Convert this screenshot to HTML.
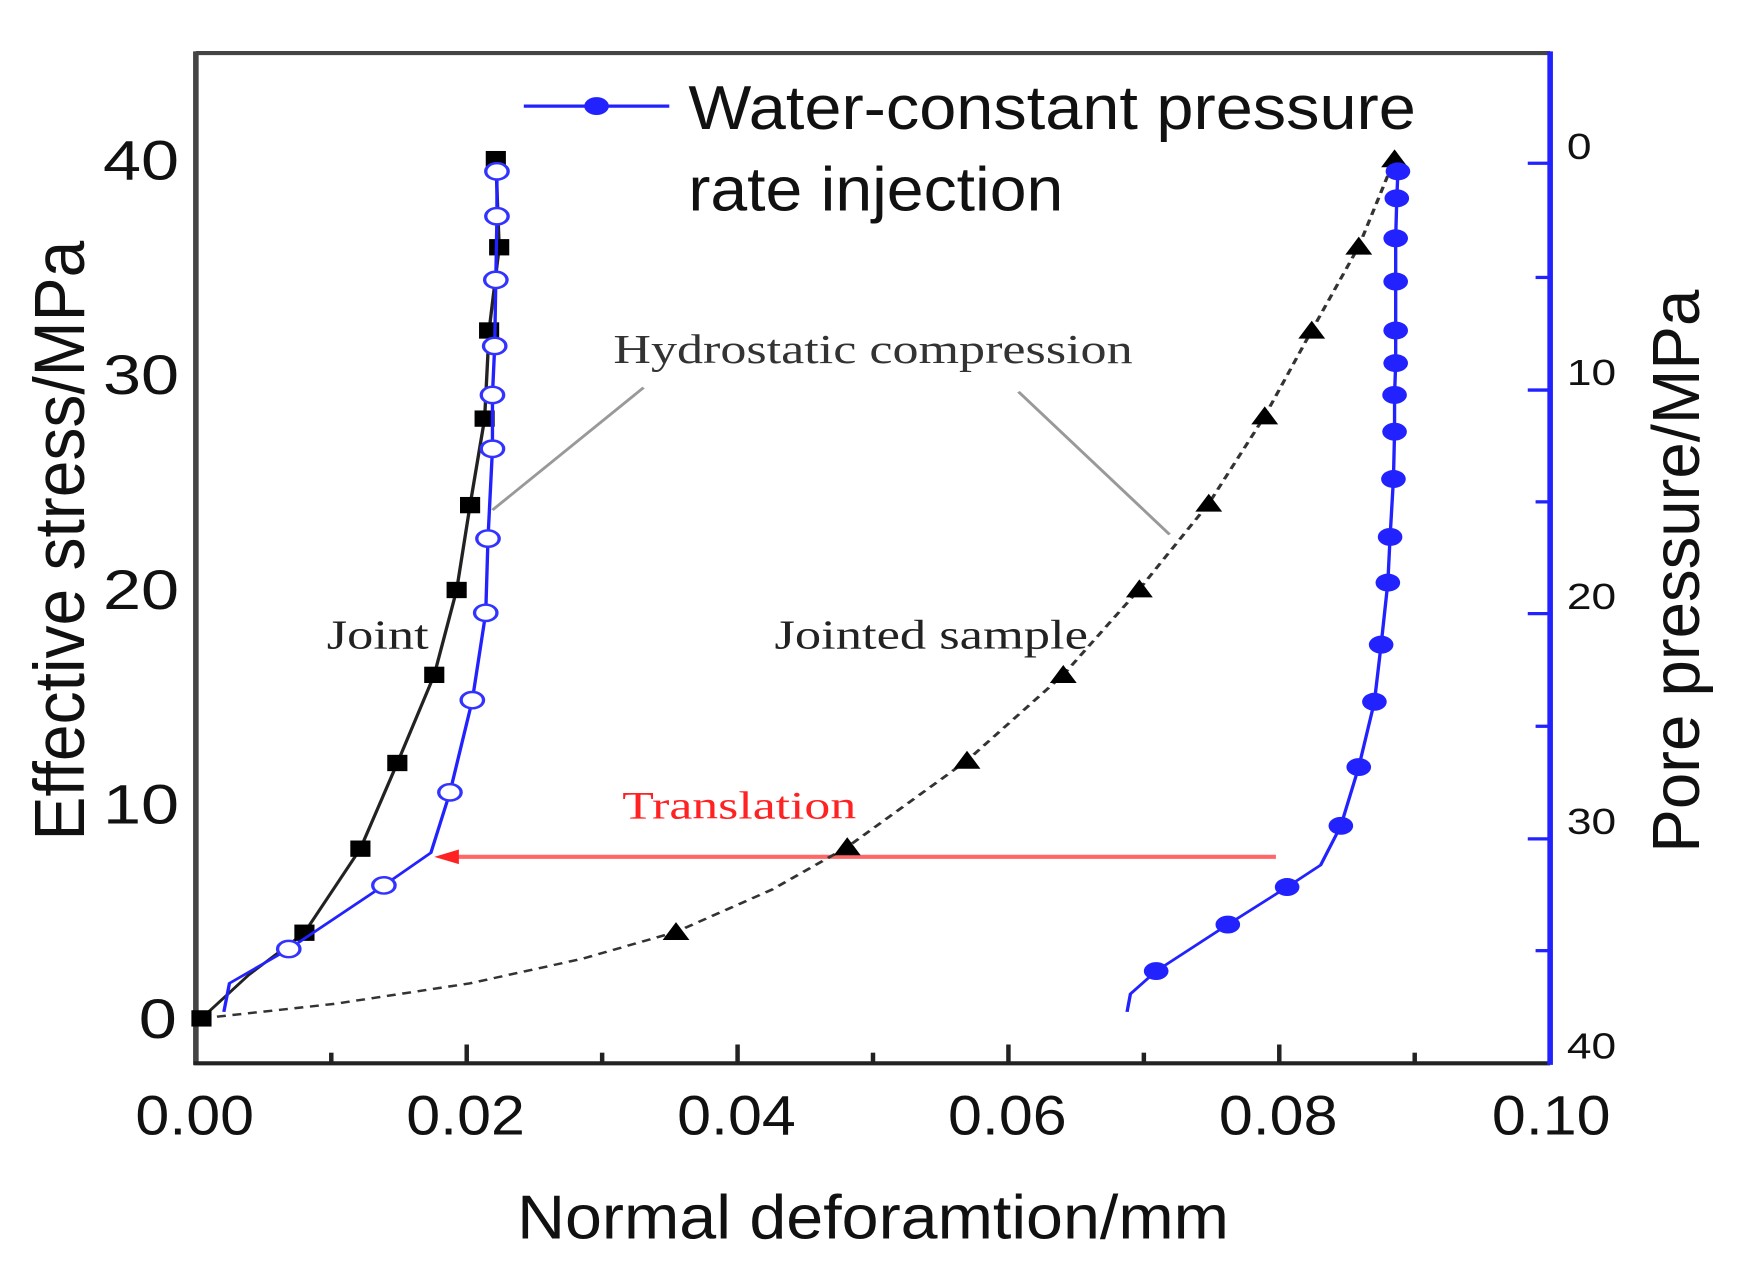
<!DOCTYPE html>
<html><head><meta charset="utf-8"><style>html,body{margin:0;padding:0;background:#fff;overflow:hidden}</style></head>
<body>
<svg width="1746" height="1273" viewBox="0 0 1560 1560" preserveAspectRatio="none" xmlns="http://www.w3.org/2000/svg">
<rect width="1560" height="1560" fill="#fff"/>
<line x1="175" y1="65" x2="1385" y2="65" stroke="#444" stroke-width="5"/>
<line x1="175" y1="63" x2="175" y2="1305" stroke="#444" stroke-width="5"/>
<line x1="173" y1="1303" x2="1385" y2="1303" stroke="#222" stroke-width="5"/>
<line x1="1385" y1="63" x2="1385" y2="1305" stroke="#22f" stroke-width="5"/>
<g stroke="#222" stroke-width="4">
<line x1="296" y1="1303" x2="296" y2="1290"/><line x1="417" y1="1303" x2="417" y2="1280"/>
<line x1="538" y1="1303" x2="538" y2="1290"/><line x1="659" y1="1303" x2="659" y2="1280"/>
<line x1="780" y1="1303" x2="780" y2="1290"/><line x1="901" y1="1303" x2="901" y2="1280"/>
<line x1="1022" y1="1303" x2="1022" y2="1290"/><line x1="1143" y1="1303" x2="1143" y2="1280"/>
<line x1="1264" y1="1303" x2="1264" y2="1290"/>
</g>
<g stroke="#22f" stroke-width="4">
<line x1="1385" y1="200" x2="1365" y2="200"/><line x1="1385" y1="340" x2="1372" y2="340"/>
<line x1="1385" y1="478" x2="1365" y2="478"/><line x1="1385" y1="615" x2="1372" y2="615"/>
<line x1="1385" y1="752" x2="1365" y2="752"/><line x1="1385" y1="890" x2="1372" y2="890"/>
<line x1="1385" y1="1028" x2="1365" y2="1028"/><line x1="1385" y1="1165" x2="1372" y2="1165"/>
</g>
<g font-family="Liberation Sans, sans-serif" fill="#111" lengthAdjust="spacingAndGlyphs">
<g font-size="68">
<text x="92" y="220" textLength="68" lengthAdjust="spacingAndGlyphs">40</text>
<text x="92" y="483" textLength="68" lengthAdjust="spacingAndGlyphs">30</text>
<text x="92" y="746" textLength="68" lengthAdjust="spacingAndGlyphs">20</text>
<text x="92" y="1009" textLength="68" lengthAdjust="spacingAndGlyphs">10</text>
<text x="124" y="1272" textLength="34" lengthAdjust="spacingAndGlyphs">0</text>
</g>
<g font-size="68">
<text x="121" y="1390" textLength="106" lengthAdjust="spacingAndGlyphs">0.00</text>
<text x="363" y="1390" textLength="106" lengthAdjust="spacingAndGlyphs">0.02</text>
<text x="605" y="1390" textLength="106" lengthAdjust="spacingAndGlyphs">0.04</text>
<text x="847" y="1390" textLength="106" lengthAdjust="spacingAndGlyphs">0.06</text>
<text x="1089" y="1390" textLength="106" lengthAdjust="spacingAndGlyphs">0.08</text>
<text x="1333" y="1390" textLength="106" lengthAdjust="spacingAndGlyphs">0.10</text>
</g>
<g font-size="44">
<text x="1400" y="195" textLength="22" lengthAdjust="spacingAndGlyphs">0</text>
<text x="1400" y="472" textLength="44" lengthAdjust="spacingAndGlyphs">10</text>
<text x="1400" y="746" textLength="44" lengthAdjust="spacingAndGlyphs">20</text>
<text x="1400" y="1022" textLength="44" lengthAdjust="spacingAndGlyphs">30</text>
<text x="1400" y="1297" textLength="44" lengthAdjust="spacingAndGlyphs">40</text>
</g>
<text x="462" y="1518" font-size="76" textLength="636" lengthAdjust="spacingAndGlyphs">Normal deforamtion/mm</text>
<text transform="translate(75,1030) rotate(-90)" font-size="64" textLength="735" lengthAdjust="spacingAndGlyphs">Effective stress/MPa</text>
<text transform="translate(1518,1045) rotate(-90)" font-size="60" textLength="690" lengthAdjust="spacingAndGlyphs">Pore pressure/MPa</text>
<text x="615" y="158" font-size="76" textLength="650" lengthAdjust="spacingAndGlyphs">Water-constant pressure</text>
<text x="615" y="258" font-size="76" textLength="335" lengthAdjust="spacingAndGlyphs">rate injection</text>
</g>
<line x1="468" y1="130" x2="598" y2="130" stroke="#22f" stroke-width="4"/>
<circle cx="533" cy="130" r="11" fill="#22f"/>
<g font-family="Liberation Serif, serif">
<text x="548" y="445" font-size="50" fill="#333" textLength="464" lengthAdjust="spacingAndGlyphs">Hydrostatic compression</text>
<text x="292" y="795" font-size="50" fill="#222" textLength="91" lengthAdjust="spacingAndGlyphs">Joint</text>
<text x="692" y="795" font-size="50" fill="#222" textLength="280" lengthAdjust="spacingAndGlyphs">Jointed sample</text>
<text x="556" y="1003" font-size="48" fill="#f22" textLength="209" lengthAdjust="spacingAndGlyphs">Translation</text>
</g>
<line x1="575" y1="475" x2="440" y2="625" stroke="#999" stroke-width="3"/>
<line x1="910" y1="480" x2="1045" y2="655" stroke="#999" stroke-width="3"/>
<line x1="1140" y1="1050" x2="400" y2="1050" stroke="#f66" stroke-width="5"/>
<polygon points="388,1050 410,1041 410,1059" fill="#f22"/>
<polyline fill="none" stroke="#333" stroke-width="3" stroke-dasharray="8,6" points="180,1248 300,1230 420,1205 520,1175 604,1142 690,1090 757,1038 864,932 950,827 1018,722 1080,617 1130,510 1172,405 1214,302 1246,195"/>
<g fill="#000">
<polygon points="604,1130 592,1152 616,1152"/><polygon points="757,1026 745,1048 769,1048"/><polygon points="864,920 852,942 876,942"/>
<polygon points="950,815 938,837 962,837"/><polygon points="1018,710 1006,732 1030,732"/><polygon points="1080,605 1068,627 1092,627"/>
<polygon points="1130,498 1118,520 1142,520"/><polygon points="1172,393 1160,415 1184,415"/><polygon points="1214,290 1202,312 1226,312"/>
<polygon points="1246,183 1234,205 1258,205"/>
</g>
<polyline fill="none" stroke="#222" stroke-width="3" points="180,1248 222,1195 272,1143 322,1040 355,935 388,827 408,723 420,619 433,513 437,405 446,303 443,195"/>
<g fill="#000">
<rect x="171" y="1238" width="18" height="20"/><rect x="263" y="1133" width="18" height="20"/><rect x="313" y="1030" width="18" height="20"/>
<rect x="346" y="925" width="18" height="20"/><rect x="379" y="817" width="18" height="20"/><rect x="399" y="713" width="18" height="20"/>
<rect x="411" y="609" width="18" height="20"/><rect x="424" y="503" width="18" height="20"/><rect x="428" y="395" width="18" height="20"/>
<rect x="437" y="293" width="18" height="20"/><rect x="434" y="185" width="18" height="20"/>
</g>
<polyline fill="none" stroke="#22f" stroke-width="3" points="200,1240 205,1205 258,1163 343,1085 385,1045 402,971 422,858 434,751 436,660 440,550 440,484 442,424 443,343 444,265 444,210"/>
<g fill="#fff" stroke="#33f" stroke-width="3">
<circle cx="258" cy="1163" r="10"/><circle cx="343" cy="1085" r="10"/><circle cx="402" cy="971" r="10"/><circle cx="422" cy="858" r="10"/>
<circle cx="434" cy="751" r="10"/><circle cx="436" cy="660" r="10"/><circle cx="440" cy="550" r="10"/><circle cx="440" cy="484" r="10"/>
<circle cx="442" cy="424" r="10"/><circle cx="443" cy="343" r="10"/><circle cx="444" cy="265" r="10"/><circle cx="444" cy="210" r="10"/>
</g>
<polyline fill="none" stroke="#22f" stroke-width="3" points="1007,1240 1010,1218 1033,1190 1097,1133 1150,1087 1180,1060 1198,1012 1214,940 1228,860 1234,790 1240,714 1242,658 1245,587 1246,529 1246,484 1247,445 1247,405 1247,345 1247,292 1248,243 1249,210 1249,200"/>
<g fill="#22f">
<circle cx="1033" cy="1190" r="11"/><circle cx="1097" cy="1133" r="11"/><circle cx="1150" cy="1087" r="11"/><circle cx="1198" cy="1012" r="11"/>
<circle cx="1214" cy="940" r="11"/><circle cx="1228" cy="860" r="11"/><circle cx="1234" cy="790" r="11"/><circle cx="1240" cy="714" r="11"/>
<circle cx="1242" cy="658" r="11"/><circle cx="1245" cy="587" r="11"/><circle cx="1246" cy="529" r="11"/><circle cx="1246" cy="484" r="11"/>
<circle cx="1247" cy="445" r="11"/><circle cx="1247" cy="405" r="11"/><circle cx="1247" cy="345" r="11"/><circle cx="1247" cy="292" r="11"/>
<circle cx="1248" cy="243" r="11"/><circle cx="1249" cy="210" r="11"/>
</g>
</svg>
</body></html>
